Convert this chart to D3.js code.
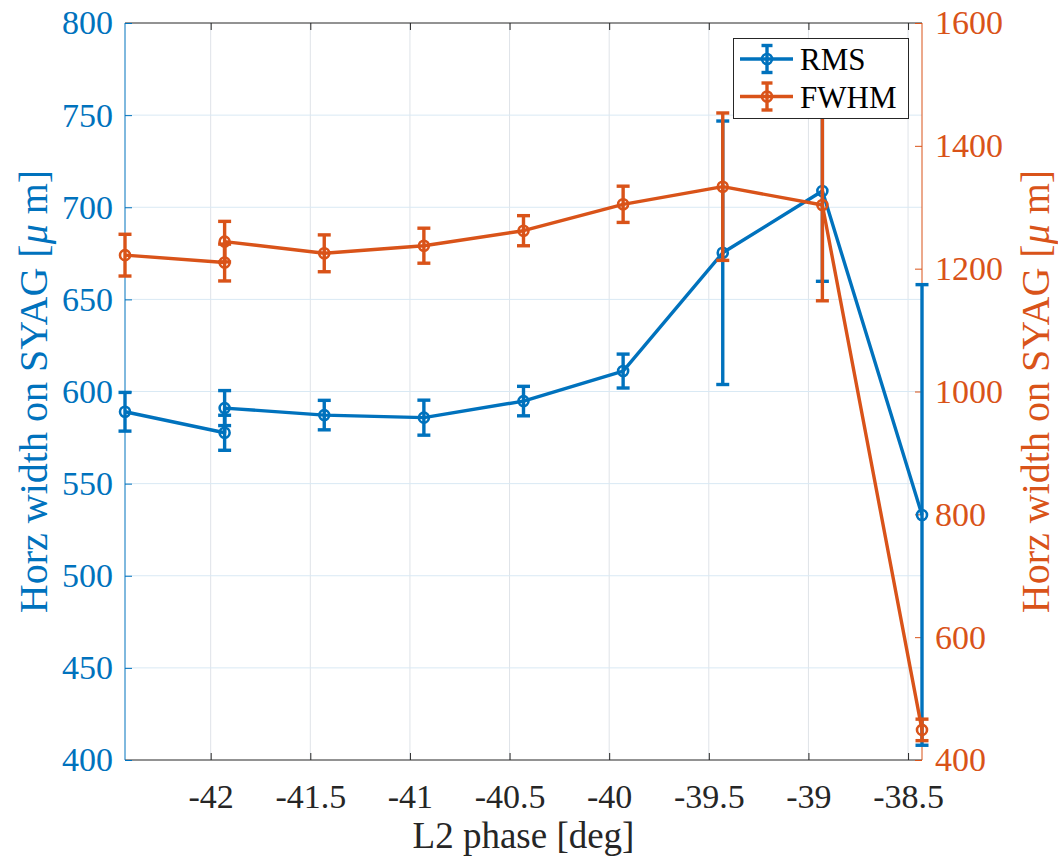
<!DOCTYPE html>
<html>
<head>
<meta charset="utf-8">
<script src="https://cdn.jsdelivr.net/npm/d3@7"></script>
<style>
  html, body { margin: 0; padding: 0; background: #fff; }
  svg { display: block; }
  svg text { font-family: "Liberation Serif", "Times New Roman", serif !important; }
</style>
</head>
<body>
<svg id="chart" width="1058" height="858"></svg>
<script>
// ---- data ----
const phase    = [-42.43, -41.93, -41.93, -41.43, -40.93, -40.43, -39.93, -39.43, -38.93, -38.43];
const rmsVals  = [589, 577.6, 591, 587.2, 585.8, 594.8, 611.1, 675.3, 708.8, 533];
const rmsErr   = [10.5, 9.5, 9.5, 8, 9.5, 8, 9.2, 71.5, 49, 125];
const fwhmVals = [1222, 1210, 1244, 1225, 1237.4, 1261.8, 1304.8, 1333.5, 1303.7, 449];
const fwhmErr  = [34, 30, 33, 30, 28.5, 24.5, 29.5, 120, 156, 17.5];
const xTicks     = [-42, -41.5, -41, -40.5, -40, -39.5, -39, -38.5];
const leftTicks  = [400, 450, 500, 550, 600, 650, 700, 750, 800];
const rightTicks = [400, 600, 800, 1000, 1200, 1400, 1600];
const seriesNames = ["RMS", "FWHM"];

const BLUE = "#0072BD", ORANGE = "#D95319", DARK = "#262626";
const SERIF = '"Liberation Serif", "Times New Roman", serif';
const L = 125, R = 922, T = 23, B = 760;

const svg = d3.select("#chart");
const x = d3.scaleLinear().domain([-42.43, -38.43]).range([L, R]);
const yL = d3.scaleLinear().domain([400, 800]).range([B, T]);
const yR = d3.scaleLinear().domain([400, 1600]).range([B, T]);

// grid
const grid = svg.append("g");
grid.selectAll(".vg").data(xTicks).enter().append("line")
  .attr("x1", d => x(d)).attr("x2", d => x(d)).attr("y1", T).attr("y2", B)
  .attr("stroke", "#dfe3e8").attr("stroke-width", 1);
grid.selectAll(".hg").data(leftTicks.slice(1, -1)).enter().append("line")
  .attr("x1", L).attr("x2", R).attr("y1", d => yL(d)).attr("y2", d => yL(d))
  .attr("stroke", "#d9e9f4").attr("stroke-width", 1);

// axes
const fs = 34;
function styleAxis(a, color) {
  a.attr("font-family", SERIF).attr("font-size", fs);
  a.selectAll(".tick line").attr("stroke", color);
  a.selectAll("text").attr("fill", color)
    .attr("font-family", SERIF)
    .style("font-family", SERIF, "important")
    .style("font-size", fs + "px");
}
const bottomAxis = svg.append("g").attr("transform", `translate(0,${B})`)
  .call(d3.axisBottom(x).tickValues(xTicks).tickSize(-7).tickPadding(24).tickFormat(d => String(d)));
const topAxis = svg.append("g").attr("transform", `translate(0,${T})`)
  .call(d3.axisTop(x).tickValues(xTicks).tickSize(-7).tickFormat(""));
[bottomAxis, topAxis].forEach(a => {
  a.select(".domain").attr("stroke", DARK).attr("d", `M${L},0H${R}`);
  styleAxis(a, DARK);
});
const leftAxis = svg.append("g").attr("transform", `translate(${L},0)`)
  .call(d3.axisLeft(yL).tickValues(leftTicks).tickSize(-7).tickPadding(12).tickFormat(d3.format("d")));
leftAxis.select(".domain").attr("stroke", BLUE).attr("d", `M0,${T}V${B}`);
styleAxis(leftAxis, BLUE);
const rightAxis = svg.append("g").attr("transform", `translate(${R},0)`)
  .call(d3.axisRight(yR).tickValues(rightTicks).tickSize(-7).tickPadding(13).tickFormat(d3.format("d")));
rightAxis.select(".domain").attr("stroke", ORANGE).attr("d", `M0,${T}V${B}`);
styleAxis(rightAxis, ORANGE);

// axis labels
const lfs = 40;
function yLabel(xpos, color) {
  const t = svg.append("text")
    .attr("transform", `translate(${xpos},${(T + B) / 2}) rotate(-90)`)
    .attr("text-anchor", "middle").attr("fill", color)
    .attr("font-family", SERIF).attr("font-size", lfs);
  t.append("tspan").text("Horz width on SYAG [");
  t.append("tspan").attr("font-style", "italic").text("μ");
  t.append("tspan").text(" m]");
}
yLabel(47, BLUE);
yLabel(1049, ORANGE);
svg.append("text").attr("x", (L + R) / 2).attr("y", 848).attr("text-anchor", "middle")
  .attr("fill", DARK).attr("font-family", SERIF).attr("font-size", 37).text("L2 phase [deg]");

// series
function drawSeries(vals, errs, y, color) {
  const g = svg.append("g");
  const pts = phase.map((p, i) => ({ x: p, v: vals[i], e: errs[i] }));
  g.append("path").datum(pts)
    .attr("d", d3.line().x(d => x(d.x)).y(d => y(d.v)))
    .attr("fill", "none").attr("stroke", color).attr("stroke-width", 3.4).attr("stroke-linejoin", "round");
  const cap = 6.5;
  const eb = g.selectAll(".eb").data(pts).enter().append("g");
  eb.append("line").attr("x1", d => x(d.x)).attr("x2", d => x(d.x))
    .attr("y1", d => y(d.v - d.e)).attr("y2", d => y(d.v + d.e))
    .attr("stroke", color).attr("stroke-width", 3.4);
  eb.append("line").attr("x1", d => x(d.x) - cap).attr("x2", d => x(d.x) + cap)
    .attr("y1", d => y(d.v - d.e)).attr("y2", d => y(d.v - d.e))
    .attr("stroke", color).attr("stroke-width", 3.4);
  eb.append("line").attr("x1", d => x(d.x) - cap).attr("x2", d => x(d.x) + cap)
    .attr("y1", d => y(d.v + d.e)).attr("y2", d => y(d.v + d.e))
    .attr("stroke", color).attr("stroke-width", 3.4);
  g.selectAll(".mk").data(pts).enter().append("circle")
    .attr("cx", d => x(d.x)).attr("cy", d => y(d.v)).attr("r", 5)
    .attr("fill", "none").attr("stroke", color).attr("stroke-width", 2.6);
}
drawSeries(rmsVals, rmsErr, yL, BLUE);
drawSeries(fwhmVals, fwhmErr, yR, ORANGE);

// legend
const lg = svg.append("g");
lg.append("rect").attr("x", 733.5).attr("y", 38.5).attr("width", 175).attr("height", 80)
  .attr("fill", "#fff").attr("stroke", DARK).attr("stroke-width", 1);
[BLUE, ORANGE].forEach((c, i) => {
  const cy = 59 + i * 37.5;
  lg.append("line").attr("x1", 740).attr("x2", 793).attr("y1", cy).attr("y2", cy).attr("stroke", c).attr("stroke-width", 3.4);
  lg.append("line").attr("x1", 767).attr("x2", 767).attr("y1", cy - 13.5).attr("y2", cy + 13.5).attr("stroke", c).attr("stroke-width", 3.4);
  lg.append("line").attr("x1", 761.5).attr("x2", 772.5).attr("y1", cy - 13.5).attr("y2", cy - 13.5).attr("stroke", c).attr("stroke-width", 3.4);
  lg.append("line").attr("x1", 761.5).attr("x2", 772.5).attr("y1", cy + 13.5).attr("y2", cy + 13.5).attr("stroke", c).attr("stroke-width", 3.4);
  lg.append("circle").attr("cx", 767).attr("cy", cy).attr("r", 5).attr("fill", "none").attr("stroke", c).attr("stroke-width", 2.6);
  lg.append("text").attr("x", 800).attr("y", cy + 11).attr("fill", "#000")
    .attr("font-family", SERIF).attr("font-size", 31).text(seriesNames[i]);
});
</script>
</body>
</html>
